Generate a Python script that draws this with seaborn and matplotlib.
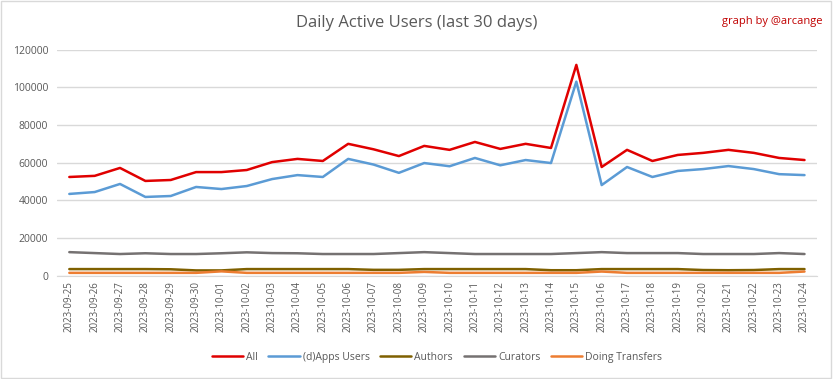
import pandas as pd
import numpy as np
import matplotlib.pyplot as plt
import seaborn as sns

# Dates (last 30 days)
dates = pd.date_range("2023-09-25", "2023-10-24").strftime("%Y-%m-%d").tolist()

all_users = [52400, 53000, 57200, 50300, 50800, 55000, 55000, 56100, 60300, 62000,
             60900, 70000, 67100, 63500, 68900, 66800, 71000, 67300, 70000, 67800,
             111900, 57700, 66800, 60900, 64100, 65200, 66800, 65200, 62500, 61400]
dapps_users = [43400, 44400, 48700, 41800, 42300, 47100, 46000, 47600, 51300, 53400,
               52400, 62000, 59000, 54600, 59800, 58100, 62500, 58600, 61400, 59800,
               103000, 48100, 57700, 52400, 55600, 56600, 58200, 56600, 53900, 53400]
authors = [3500, 3500, 3500, 3500, 3400, 2800, 2800, 3500, 3500, 3500,
           3500, 3500, 3100, 3100, 3500, 3500, 3500, 3500, 3500, 2900,
           2900, 3500, 3500, 3500, 3500, 3000, 2900, 3000, 3500, 3500]
curators = [12500, 12000, 11500, 11900, 11500, 11500, 11900, 12400, 12000, 11900,
            11500, 11500, 11500, 12000, 12500, 12000, 11500, 11500, 11500, 11500,
            12000, 12500, 12000, 12000, 12000, 11500, 11500, 11500, 12000, 11500]
transfers = [1500, 1500, 1500, 1500, 1500, 1500, 2300, 1500, 1500, 1500,
             1500, 1500, 1500, 1500, 2000, 1500, 1500, 1500, 1500, 1500,
             1500, 2200, 1500, 1500, 1500, 1500, 1500, 1500, 1500, 2200]

series_names = ["All", "(d)Apps Users", "Authors", "Curators", "Doing Transfers"]
colors = ["#e00000", "#5b9bd5", "#7f6000", "#757171", "#ed7d31"]

df = pd.DataFrame({
    "idx": np.tile(np.arange(len(dates)), 5),
    "value": all_users + dapps_users + authors + curators + transfers,
    "series": np.repeat(series_names, len(dates)),
})

sns.set_style("white")
plt.rcParams['font.family'] = ['Open Sans', 'DejaVu Sans']
text_color = "#595959"

fig = plt.figure(figsize=(8.33, 3.79), dpi=100)
ax = fig.add_axes([0.068, 0.2726, 0.913, 0.5964])

sns.lineplot(data=df, x="idx", y="value", hue="series", hue_order=series_names,
             palette=colors, linewidth=1.8, ax=ax, legend=True)

ax.set_xlim(-0.5, len(dates) - 0.5)
ax.set_ylim(0, 120000)
ax.set_yticks(np.arange(0, 120001, 20000))
ax.yaxis.grid(True, color="#d9d9d9", linewidth=1)
ax.set_axisbelow(True)
ax.set_xticks(np.arange(len(dates)))
ax.set_xticklabels(dates, rotation=90)
ax.tick_params(axis="y", labelsize=7.5, colors=text_color, length=0, pad=6)
ax.tick_params(axis="x", labelsize=7, colors=text_color, length=0, pad=4)
ax.set_xlabel("")
ax.set_ylabel("")
for side in ["top", "right", "left"]:
    ax.spines[side].set_visible(False)
ax.spines["bottom"].set_color("#d9d9d9")

handles, labels = ax.get_legend_handles_labels()
ax.legend(handles, labels, loc="center", bbox_to_anchor=(0.5, -0.36), ncol=5,
          frameon=False, fontsize=7.5, labelcolor=text_color, handlelength=3,
          columnspacing=1.0, handletextpad=0.3)

fig.text(0.5, 0.94, "Daily Active Users (last 30 days)", ha="center", va="center",
         fontsize=12, color=text_color)
fig.text(0.987, 0.942, "graph by @arcange", ha="right", va="center",
         fontsize=8, color="#c00000")

# light frame around the chart
fig.patches.append(plt.Rectangle((0.001, 0.002), 0.997, 0.995, transform=fig.transFigure,
                                 fill=False, edgecolor="#d9d9d9", linewidth=1))

fig.savefig("out.png", dpi=100)
